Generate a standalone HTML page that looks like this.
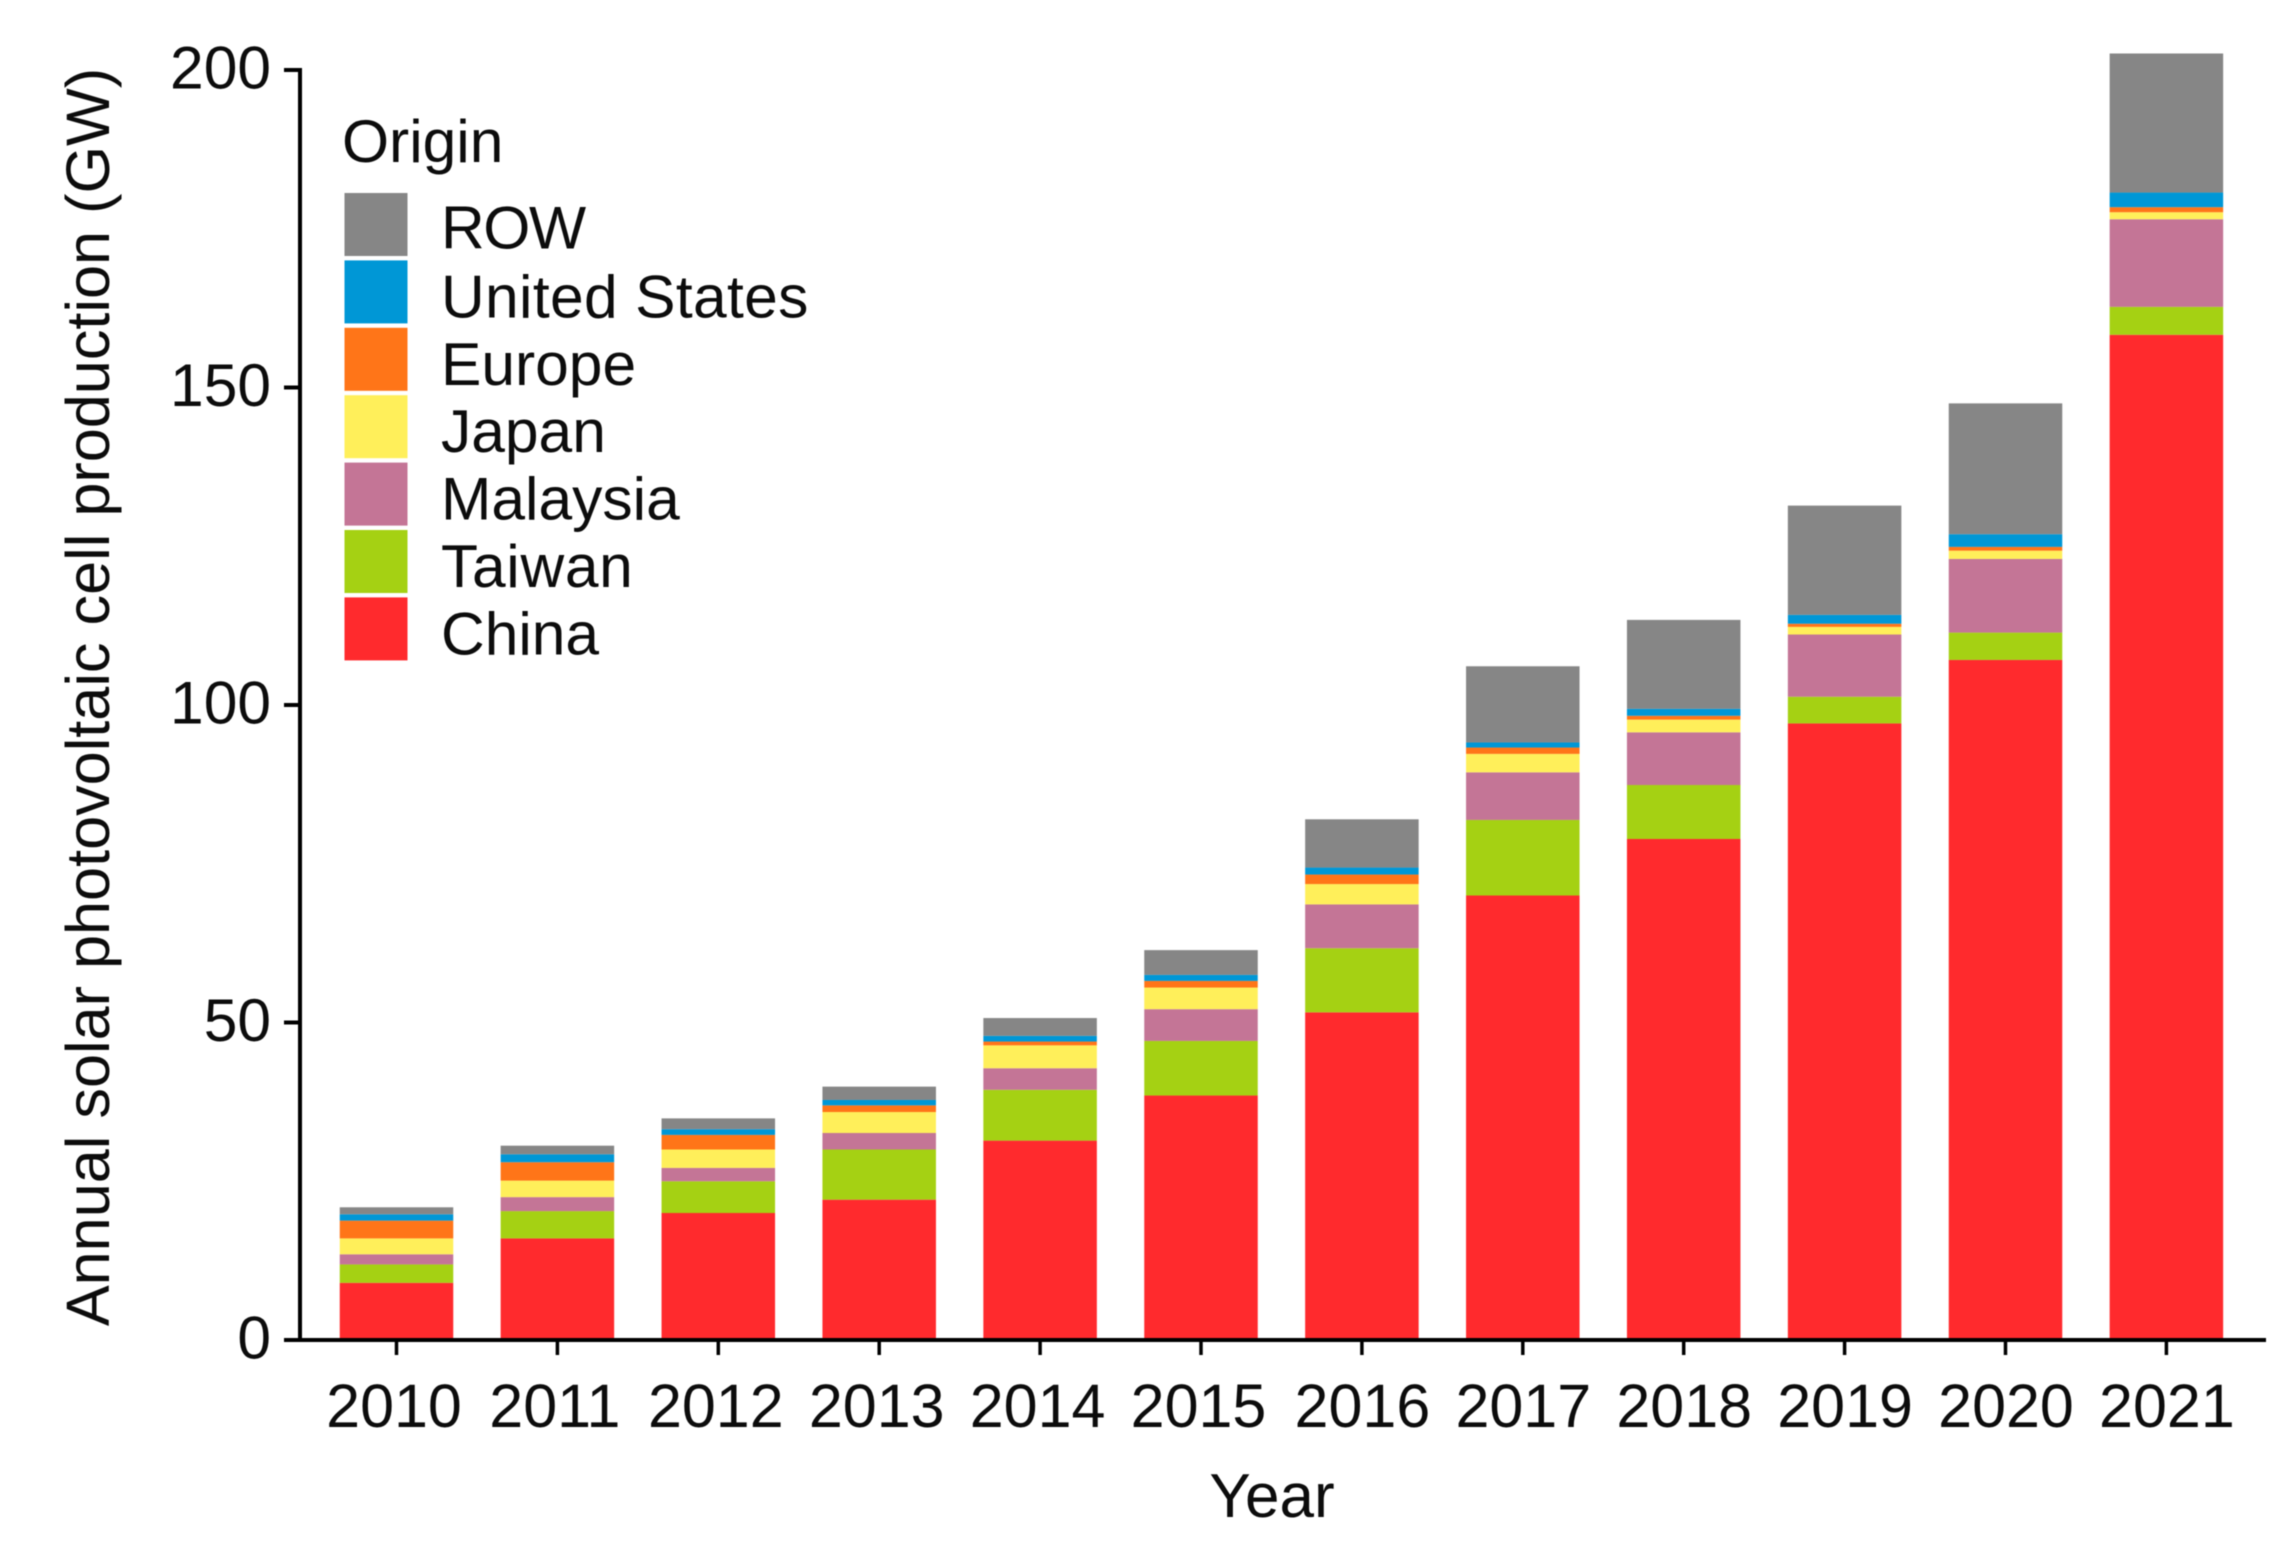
<!DOCTYPE html>
<html lang="en">
<head>
<meta charset="utf-8">
<title>Annual solar photovoltaic cell production</title>
<style>
  html, body { margin: 0; padding: 0; background: #fff; width: 2296px; height: 1554px; overflow: hidden; }
  #chart { display: block; filter: blur(0.6px); }
  text { font-family: "Liberation Sans", sans-serif; font-size: 60.5px; fill: #0c0c0c; }
  .tick-x { font-size: 61px; }
  .title-x { font-size: 62px; }
  .title-y { font-size: 61.2px; }
</style>
</head>
<body>
<svg id="chart" xmlns="http://www.w3.org/2000/svg" width="2296" height="1554" viewBox="0 0 2296 1554">
  <rect x="0" y="0" width="2296" height="1554" fill="#ffffff"></rect>
  <g id="bars"></g>
  <g id="axes"></g>
  <g id="legend"></g>
</svg>
<script>
const years = ["2010","2011","2012","2013","2014","2015","2016","2017","2018","2019","2020","2021"];
const yTickLabels = [0, 50, 100, 150, 200];
const seriesNames = ["China","Taiwan","Malaysia","Japan","Europe","United States","ROW"];
const china = [9.0,16.0,20.0,22.1,31.4,38.5,51.6,70.0,78.9,97.1,107.1,158.3];
const taiwan = [2.9,4.3,5.0,7.9,8.0,8.6,10.1,11.9,8.5,4.2,4.3,4.4];
const malaysia = [1.6,2.2,2.1,2.6,3.4,5.0,6.9,7.5,8.3,9.8,11.6,13.8];
const japan = [2.5,2.6,2.9,3.3,3.6,3.4,3.2,2.9,2.0,1.2,1.3,1.1];
const europe = [2.8,2.9,2.3,1.05,0.6,1.05,1.5,1.0,0.6,0.5,0.6,0.8];
const unitedStates = [1.0,1.25,0.9,0.85,0.9,0.95,1.1,0.8,1.1,1.4,2.0,2.3];
const row = [1.1,1.35,1.7,2.1,2.8,3.9,7.6,12.0,14.0,17.2,20.6,21.9];
const seriesValues = [china, taiwan, malaysia, japan, europe, unitedStates, row];
const seriesColors = ["#ff2a2d","#a5d113","#c47596","#ffef5a","#ff7518","#0097d6","#868686"];
const legendSpacing = { "United States": "0.35px", "ROW": "-1.4px", "Taiwan": "0.7px" };

const NS = "http://www.w3.org/2000/svg";
const yZero = 1340, yPerUnit = 6.35;
const xFirst = 396.5, xStep = 160.9, barWidth = 113.5;
function yScale(v) { return yZero - v * yPerUnit; }
function xScale(i) { return xFirst + i * xStep; }
function kebab(s) { return s.toLowerCase().replace(/\s+/g, "-"); }
function make(parent, tag, attrs, content) {
  const node = document.createElementNS(NS, tag);
  for (const key in attrs) node.setAttribute(key, attrs[key]);
  if (content !== undefined) node.textContent = content;
  parent.appendChild(node);
  return node;
}

const barsGroup = document.getElementById("bars");
const axesGroup = document.getElementById("axes");
const legendGroup = document.getElementById("legend");

years.forEach(function (year, i) {
  let cumulative = 0;
  seriesValues.forEach(function (values, s) {
    const next = cumulative + values[i];
    const seg = make(barsGroup, "rect", {
      x: xScale(i) - barWidth / 2,
      y: yScale(next),
      width: barWidth,
      height: yScale(cumulative) - yScale(next),
      fill: seriesColors[s]
    });
    
    
    cumulative = next;
  });
});

const yAxisLine = make(axesGroup, "line", { x1: 300, y1: 68, x2: 300, y2: 1342, stroke: "#000", "stroke-width": 4 });


const xAxisLine = make(axesGroup, "line", { x1: 284, y1: yZero, x2: 2266, y2: yZero, stroke: "#000", "stroke-width": 4 });



yTickLabels.forEach(function (value) {
  const tick = make(axesGroup, "line", { x1: 284, y1: yScale(value), x2: 300, y2: yScale(value), stroke: "#000", "stroke-width": 4 });
  
  
  const label = make(axesGroup, "text", { x: 271, y: yScale(value) + 18.5, "text-anchor": "end" }, String(value));
  
  
});

years.forEach(function (year, i) {
  const tick = make(axesGroup, "line", { x1: xScale(i), y1: yZero, x2: xScale(i), y2: 1355, stroke: "#000", "stroke-width": 3.5 });
  
  
  const label = make(axesGroup, "text", { x: xScale(i) + (i < 6 ? -2.5 : 0.5), y: 1427, "text-anchor": "middle", "class": "tick-x" }, year);
  
  
});

const xTitle = make(axesGroup, "text", { x: 1272, y: 1517, "text-anchor": "middle", "class": "title-x" }, "Year");


const yTitle = make(axesGroup, "text", { x: 0, y: 0, "text-anchor": "middle", "class": "title-y", transform: "translate(109 697) rotate(-90)" }, "Annual solar photovoltaic cell production (GW)");



const legendTitle = make(legendGroup, "text", { x: 342, y: 162 }, "Origin");



const legendTop = 193, legendPitch = 67.4, swatchSize = 63;
for (let k = 0; k < seriesNames.length; k++) {
  const s = seriesNames.length - 1 - k;
  const top = legendTop + k * legendPitch;
  const swatch = make(legendGroup, "rect", { x: 344.5, y: top, width: swatchSize, height: swatchSize, fill: seriesColors[s] });
  
  
  const entry = make(legendGroup, "text", { x: 441, y: top + (k === 0 ? 55.5 : 57) }, seriesNames[s]);
  if (legendSpacing[seriesNames[s]]) entry.style.letterSpacing = legendSpacing[seriesNames[s]];
  
  
}
</script>
</body>
</html>
